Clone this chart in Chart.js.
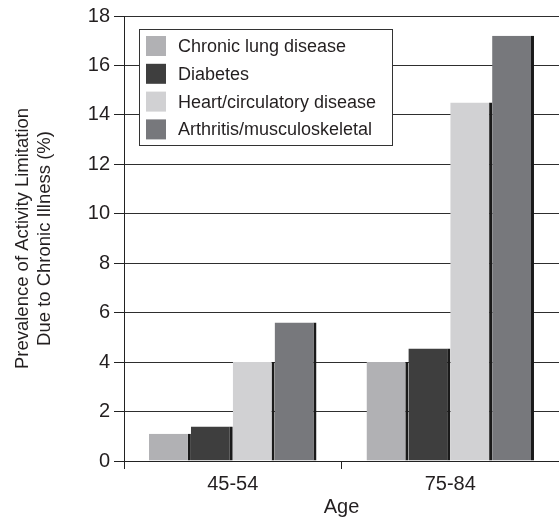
<!DOCTYPE html>
<html>
<head>
<meta charset="utf-8">
<style>
  html, body { margin: 0; padding: 0; background: #fff; }
  #wrap { position: relative; width: 559px; height: 519px; }
</style>
<script src="https://cdn.jsdelivr.net/npm/chart.js@4/dist/chart.umd.min.js"></script>
</head>
<body>
<div id="wrap"><canvas id="chart" width="559" height="519"></canvas></div>
<script>
const ageGroups = ["45-54", "75-84"];
const seriesNames = ["Chronic lung disease", "Diabetes", "Heart/circulatory disease", "Arthritis/musculoskeletal"];
const lungDisease = [1.1, 4.0];
const diabetes = [1.4, 4.55];
const heartDisease = [4.0, 14.5];
const arthritis = [5.6, 17.2];
const yTicks = [0, 2, 4, 6, 8, 10, 12, 14, 16, 18];

const fills = ["#b1b1b4", "#3e3e3e", "#d1d1d3", "#77787c"];
const ink = "#231f20";
const fontFamily = "'Liberation Sans', Arial, Helvetica, sans-serif";

// legend drawn inside the plot, in a white box with a thin border
const boxLegend = {
  id: 'boxLegend',
  afterDatasetsDraw(chart) {
    const ctx = chart.ctx;
    const area = chart.chartArea;
    const x = area.left + 15;
    const y = area.top + 13;
    const w = 253;
    const h = 116;
    ctx.save();
    ctx.fillStyle = '#fff';
    ctx.fillRect(x, y, w, h);
    ctx.strokeStyle = '#333';
    ctx.lineWidth = 1;
    ctx.strokeRect(x + 0.5, y + 0.5, w, h);
    ctx.font = "18px " + fontFamily;
    ctx.textBaseline = 'middle';
    ctx.textAlign = 'left';
    chart.data.datasets.forEach((ds, i) => {
      const rowY = y + 7 + i * 27.8;
      ctx.fillStyle = ds.backgroundColor;
      ctx.fillRect(x + 7, rowY, 20, 20);
      ctx.fillStyle = ink;
      ctx.fillText(ds.label, x + 39, rowY + 11);
    });
    ctx.restore();
  }
};

const makeSet = (i, values) => ({
  label: seriesNames[i],
  data: values,
  backgroundColor: fills[i],
  borderColor: '#1a1a1a',
  borderWidth: { top: 0, right: 3, bottom: 0, left: 0 },
  borderSkipped: 'start',
  categoryPercentage: 0.77,
  barPercentage: 1.0
});

new Chart(document.getElementById('chart').getContext('2d'), {
  type: 'bar',
  data: {
    labels: ageGroups,
    datasets: [
      makeSet(0, lungDisease),
      makeSet(1, diabetes),
      makeSet(2, heartDisease),
      makeSet(3, arthritis)
    ]
  },
  options: {
    responsive: false,
    animation: false,
    layout: { padding: { top: 16, right: 0, bottom: 0, left: 0 } },
    plugins: {
      legend: { display: false },
      tooltip: { enabled: false }
    },
    scales: {
      x: {
        afterFit(scale) { scale.height = 58; },
        grid: {
          offset: true,
          drawOnChartArea: false,
          drawTicks: true,
          tickLength: 8,
          color: '#222'
        },
        border: { display: true, color: '#222', width: 1 },
        ticks: { color: ink, font: { family: fontFamily, size: 20 }, padding: 3 },
        title: {
          display: true,
          text: 'Age',
          color: ink,
          font: { family: fontFamily, size: 20 },
          padding: { top: 0, bottom: 0 }
        }
      },
      y: {
        min: 0,
        max: 18,
        afterFit(scale) { scale.width = 124; },
        afterBuildTicks(scale) { scale.ticks = yTicks.map(v => ({ value: v })); },
        grid: {
          color: '#2e2e2e',
          lineWidth: 1,
          drawTicks: true,
          tickLength: 10,
          tickColor: '#222'
        },
        border: { display: true, color: '#222', width: 1 },
        ticks: { color: ink, font: { family: fontFamily, size: 20 }, padding: 4 },
        title: {
          display: true,
          text: ['Prevalence of Activity Limitation', 'Due to Chronic Illness (%)'],
          color: ink,
          font: { family: fontFamily, size: 18.5 },
          padding: { top: 12, bottom: 0 }
        }
      }
    }
  },
  plugins: [boxLegend]
});
</script>
</body>
</html>
